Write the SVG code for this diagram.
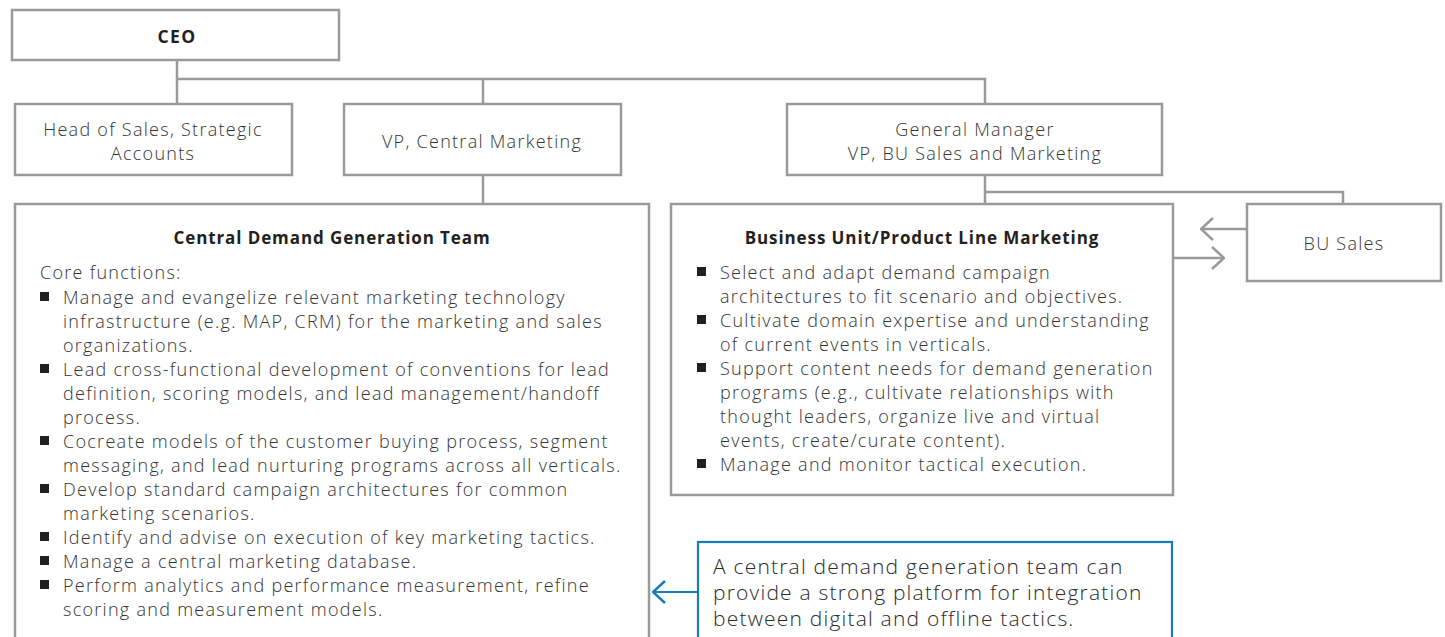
<svg xmlns="http://www.w3.org/2000/svg" width="1445" height="637" viewBox="0 0 1445 637">
<style>
  .box { fill: #ffffff; stroke: #999a9c; stroke-width: 2.5; }
  .blue { fill: #ffffff; stroke: #1a7abf; stroke-width: 2.2; }
  .con { fill: none; stroke: #999a9c; stroke-width: 2.5; }
  .t { font-family: "Open Sans", "Liberation Sans", sans-serif; font-size: 18px; font-weight: 300; letter-spacing: 1.28px; fill: #333333; dominant-baseline: central; }
  .c { text-anchor: middle; }
  .b { font-weight: bold; fill: #231f20; font-size: 17px; letter-spacing: 0.9px; }
  .ceo { font-size: 17.5px; letter-spacing: 1.4px; }
  .call { font-size: 21px; letter-spacing: 1.2px; fill: #2b2b2b; }
  .bul { fill: #231f20; }
</style>
<defs>
  <marker id="ag" viewBox="0 0 14 24" refX="13" refY="12" markerWidth="14" markerHeight="24" markerUnits="userSpaceOnUse" orient="auto">
    <path d="M1,1 L13,12 L1,23" fill="none" stroke="#999a9c" stroke-width="2.5"/>
  </marker>
  <marker id="ab" viewBox="0 0 14 24" refX="13" refY="12" markerWidth="14" markerHeight="24" markerUnits="userSpaceOnUse" orient="auto">
    <path d="M1,1 L13,12 L1,23" fill="none" stroke="#1a7abf" stroke-width="2.5"/>
  </marker>
</defs>

<g id="connectors">
  <path class="con" d="M177,60 V79 H985 V104"/>
  <path class="con" d="M177,79 V104"/>
  <path class="con" d="M483,79 V104"/>
  <path class="con" d="M483,175 V204"/>
  <path class="con" d="M985,175 V204"/>
  <path class="con" d="M985,192 H1343 V204"/>
  <path class="con" d="M1247,229 H1201" marker-end="url(#ag)"/>
  <path class="con" d="M1173,258 H1224" marker-end="url(#ag)"/>
  <path d="M698,592 H653" fill="none" stroke="#1a7abf" stroke-width="2.2" marker-end="url(#ab)"/>
</g>

<g id="ceo">
  <rect class="box" x="12" y="10" width="327" height="50"/>
  <text class="t b c ceo" x="177" y="36">CEO</text>
</g>

<g id="head-of-sales">
  <rect class="box" x="15" y="104" width="277" height="71"/>
  <text class="t c" x="153" y="129">Head of Sales, Strategic</text>
  <text class="t c" x="153" y="153">Accounts</text>
</g>

<g id="vp-central">
  <rect class="box" x="344" y="104" width="277" height="71"/>
  <text class="t c" x="482" y="141">VP, Central Marketing</text>
</g>

<g id="general-manager">
  <rect class="box" x="787" y="104" width="375" height="71"/>
  <text class="t c" x="975" y="129">General Manager</text>
  <text class="t c" x="975" y="153">VP, BU Sales and Marketing</text>
</g>

<g id="central-demand">
  <rect class="box" x="15" y="204" width="634" height="440"/>
  <text class="t b c" x="332" y="237">Central Demand Generation Team</text>
  <text class="t" x="40" y="272">Core functions:</text>
  <g class="bul">
    <rect x="40" y="292" width="9" height="9"/>
    <rect x="40" y="364" width="9" height="9"/>
    <rect x="40" y="436" width="9" height="9"/>
    <rect x="40" y="484" width="9" height="9"/>
    <rect x="40" y="532" width="9" height="9"/>
    <rect x="40" y="556" width="9" height="9"/>
    <rect x="40" y="580" width="9" height="9"/>
  </g>
  <text class="t" x="63" y="297">Manage and evangelize relevant marketing technology</text>
  <text class="t" x="63" y="321">infrastructure (e.g. MAP, CRM) for the marketing and sales</text>
  <text class="t" x="63" y="345">organizations.</text>
  <text class="t" x="63" y="369">Lead cross-functional development of conventions for lead</text>
  <text class="t" x="63" y="393">definition, scoring models, and lead management/handoff</text>
  <text class="t" x="63" y="417">process.</text>
  <text class="t" x="63" y="441">Cocreate models of the customer buying process, segment</text>
  <text class="t" x="63" y="465">messaging, and lead nurturing programs across all verticals.</text>
  <text class="t" x="63" y="489">Develop standard campaign architectures for common</text>
  <text class="t" x="63" y="513">marketing scenarios.</text>
  <text class="t" x="63" y="537">Identify and advise on execution of key marketing tactics.</text>
  <text class="t" x="63" y="561">Manage a central marketing database.</text>
  <text class="t" x="63" y="585">Perform analytics and performance measurement, refine</text>
  <text class="t" x="63" y="609">scoring and measurement models.</text>
</g>

<g id="bu-product-line">
  <rect class="box" x="671" y="204" width="502" height="291"/>
  <text class="t b c" x="922" y="237">Business Unit/Product Line Marketing</text>
  <g class="bul">
    <rect x="697" y="267" width="9" height="9"/>
    <rect x="697" y="315" width="9" height="9"/>
    <rect x="697" y="363" width="9" height="9"/>
    <rect x="697" y="459" width="9" height="9"/>
  </g>
  <text class="t" x="720" y="272">Select and adapt demand campaign</text>
  <text class="t" x="720" y="296">architectures to fit scenario and objectives.</text>
  <text class="t" x="720" y="320">Cultivate domain expertise and understanding</text>
  <text class="t" x="720" y="344">of current events in verticals.</text>
  <text class="t" x="720" y="368">Support content needs for demand generation</text>
  <text class="t" x="720" y="392">programs (e.g., cultivate relationships with</text>
  <text class="t" x="720" y="416">thought leaders, organize live and virtual</text>
  <text class="t" x="720" y="440">events, create/curate content).</text>
  <text class="t" x="720" y="464">Manage and monitor tactical execution.</text>
</g>

<g id="bu-sales">
  <rect class="box" x="1247" y="204" width="194" height="77"/>
  <text class="t c" x="1344" y="243">BU Sales</text>
</g>

<g id="callout">
  <rect class="blue" x="698" y="542" width="474" height="110"/>
  <text class="t call" x="713" y="566">A central demand generation team can</text>
  <text class="t call" x="713" y="592">provide a strong platform for integration</text>
  <text class="t call" x="713" y="618">between digital and offline tactics.</text>
</g>
</svg>
